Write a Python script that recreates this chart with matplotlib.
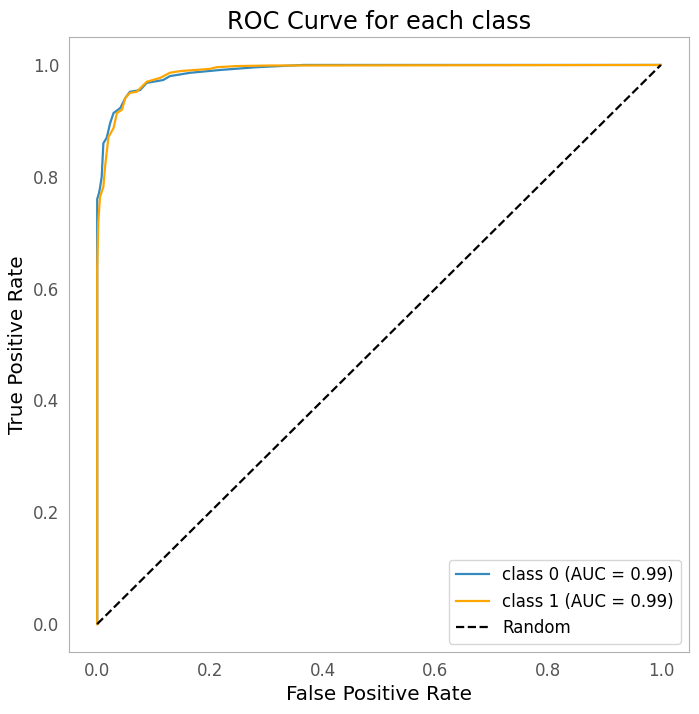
import matplotlib.pyplot as plt

# ROC points (fpr, tpr)
fpr0 = [0.0, 0.0, 0.0, 0.003, 0.005, 0.008, 0.011, 0.017, 0.023, 0.029, 0.041, 0.05, 0.058,
        0.076, 0.088, 0.117, 0.129, 0.165, 0.218, 0.283, 0.366, 1.0]
tpr0 = [0.0, 0.70, 0.76, 0.77, 0.78, 0.80, 0.86, 0.87, 0.896, 0.914, 0.923, 0.941, 0.952,
        0.955, 0.968, 0.973, 0.98, 0.986, 0.991, 0.996, 1.0, 1.0]

fpr1 = [0.0, 0.0, 0.0, 0.002, 0.005, 0.011, 0.014, 0.02, 0.029, 0.035, 0.044, 0.05, 0.058,
        0.07, 0.088, 0.112, 0.129, 0.147, 0.2, 0.212, 0.248, 0.307, 1.0]
tpr1 = [0.0, 0.60, 0.634, 0.72, 0.764, 0.782, 0.818, 0.871, 0.887, 0.914, 0.92, 0.941, 0.95,
        0.952, 0.97, 0.977, 0.986, 0.989, 0.993, 0.996, 0.998, 0.999, 1.0]

auc_vals = [0.99, 0.99]
colors = ['#348ABD', 'orange']

fig, ax = plt.subplots(figsize=(6.99, 7.14), dpi=100)
fig.subplots_adjust(left=69/699, right=689/699, top=1-37/714, bottom=1-652/714)

ax.plot(fpr0, tpr0, color=colors[0], lw=1.6,
        label=f'class 0 (AUC = {auc_vals[0]:.2f})')
ax.plot(fpr1, tpr1, color=colors[1], lw=1.6,
        label=f'class 1 (AUC = {auc_vals[1]:.2f})')
ax.plot([0, 1], [0, 1], 'k--', lw=1.6, label='Random')

ax.set_title('ROC Curve for each class', fontsize=17.3)
ax.set_xlabel('False Positive Rate', fontsize=14.4)
ax.set_ylabel('True Positive Rate', fontsize=14.4)
ax.tick_params(length=0, labelsize=12, labelcolor='#555555', pad=7)
for s in ax.spines.values():
    s.set_color('#b0b0b0')
ax.grid(False)
ax.legend(loc='lower right', fontsize=12)

plt.savefig('out.png')
